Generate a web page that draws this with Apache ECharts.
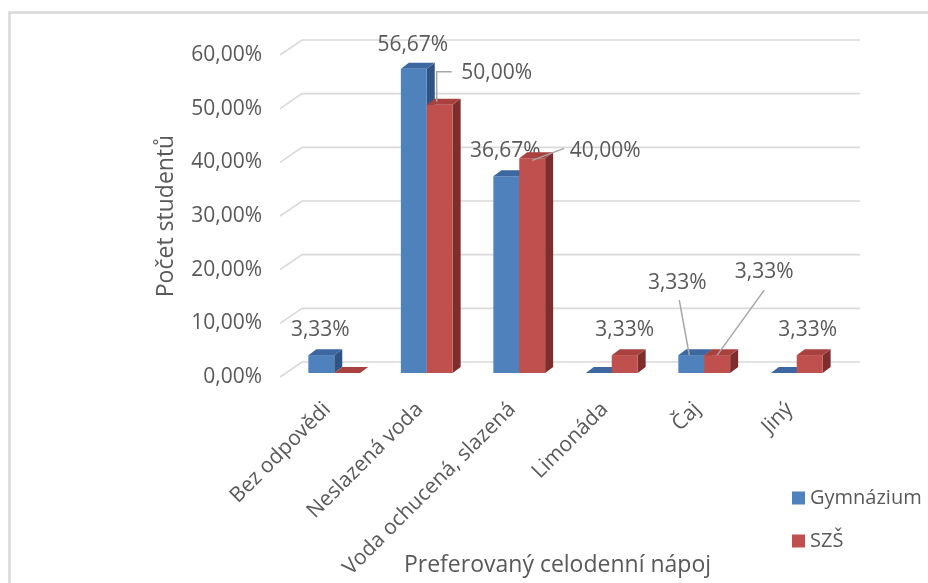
<!DOCTYPE html>
<html>
<head>
<meta charset="utf-8">
<style>
  html, body { margin: 0; padding: 0; background: #fff; }
  #chart { width: 928px; height: 583px; }
</style>
<script src="https://cdn.jsdelivr.net/npm/echarts@6/dist/echarts.min.js"></script>
</head>
<body>
<div id="chart"></div>
<script>
// Preferred all-day drink, share of students by school type
const categories = ['Bez odpovědi', 'Neslazená voda', 'Voda ochucená, slazená', 'Limonáda', 'Čaj', 'Jiný'];
const gymnazium = [3.33, 56.67, 36.67, 0, 3.33, 0];
const szs = [0, 50.00, 40.00, 3.33, 3.33, 3.33];
const yTicks = [0, 10, 20, 30, 40, 50, 60];
const seriesNames = ['Gymnázium', 'SZŠ'];

// Label placement relative to the top-front centre of each bar (px):
// [dx, dy, leaderType, leader end at label (x, y), leader end at bar (x, y)]
const gymLabelPos = [
  [-1, -25, 0], [-1, -24, 0], [-1, -25, 0], null,
  [-14, -72, 1, 2, 17, -2, 0], null
];
const szsLabelPos = [
  null, [57, -32, 2, -45, -1, -3, -3], [73, -7, 1, -41, -3, 0, 2],
  [0, -25, 0], [47, -83, 1, 0, 18, 0, 0], [-2, -25, 0]
];

const FONT = '"Open Sans", Lato, sans-serif';
const TEXT = '#595959';
const GRID = '#d9d9d9';
const FS = 21;

// 3D look: bar depth faces, bar plane inset from the floor front, back wall offset
const BAR_DX = 8, BAR_DY = -6;
const BAR_PLANE_DY = -4;
const WALL_DX = 22, WALL_DY = -15;

const palette = [
  { front: '#4f81bd', top: '#3c67a1', side: '#2f5483' },
  { front: '#c0504d', top: '#a9423f', side: '#7d2e2c' }
];

function fmt(v) { return v.toFixed(2).replace('.', ',') + '%'; }

function barRenderer(seriesIdx, labelPos) {
  return function (params, api) {
    const i = api.value(0), v = api.value(1);
    const base = api.coord([i, 0]);
    const top = api.coord([i, v]);
    const band = api.size([1, 0])[0];
    const w = band * 0.28;
    const x0 = seriesIdx === 0 ? base[0] - w : base[0];
    const y0 = base[1] + BAR_PLANE_DY, y1 = top[1] + BAR_PLANE_DY;
    const c = palette[seriesIdx];
    const children = [];
    if (y0 - y1 > 0.5) {
      children.push({
        type: 'polygon',
        shape: { points: [[x0 + w, y1], [x0 + w + BAR_DX, y1 + BAR_DY], [x0 + w + BAR_DX, y0 + BAR_DY], [x0 + w, y0]] },
        style: { fill: c.side }
      });
      children.push({
        type: 'rect',
        shape: { x: x0, y: y1, width: w, height: y0 - y1 },
        style: { fill: c.front }
      });
    }
    children.push({
      type: 'polygon',
      shape: { points: [[x0, y1], [x0 + BAR_DX, y1 + BAR_DY], [x0 + w + BAR_DX, y1 + BAR_DY], [x0 + w, y1]] },
      style: { fill: c.top }
    });
    const lp = labelPos[i];
    if (lp && v > 0) {
      const cx = x0 + w / 2, cy = y1;
      const lx = cx + lp[0], ly = cy + lp[1];
      if (lp[2] === 1) {
        children.push({
          type: 'line',
          shape: { x1: lx + lp[3], y1: ly + lp[4], x2: cx + lp[5], y2: cy + lp[6] },
          style: { stroke: '#a6a6a6', lineWidth: 1.5 }
        });
      } else if (lp[2] === 2) {
        children.push({
          type: 'polyline',
          shape: { points: [[cx + lp[5], cy + lp[6]], [cx + lp[5], ly + lp[4]], [lx + lp[3], ly + lp[4]]] },
          style: { stroke: '#a6a6a6', lineWidth: 1.5, fill: null }
        });
      }
      children.push({
        type: 'text',
        style: {
          x: lx, y: ly, text: fmt(v), fill: TEXT,
          font: FS + 'px ' + FONT, align: 'center', verticalAlign: 'middle'
        }
      });
    }
    return { type: 'group', children: children };
  };
}

const chart = echarts.init(document.getElementById('chart'), null, { renderer: 'canvas' });

chart.setOption({
  backgroundColor: '#fff',
  animation: false,
  textStyle: { fontFamily: FONT },
  graphic: [{
    type: 'rect',
    shape: { x: 9.5, y: 12.5, width: 1000, height: 1000 },
    style: { fill: null, stroke: GRID, lineWidth: 2.5 },
    silent: true, z: -10
  }],
  legend: {
    orient: 'vertical',
    left: 787, top: 483,
    itemWidth: 13, itemHeight: 13, itemGap: 23,
    icon: 'rect',
    data: seriesNames,
    textStyle: { color: TEXT, fontSize: 20, fontFamily: FONT }
  },
  grid: { left: 288, right: 85, top: 55, bottom: 206, outerBoundsMode: 'none' },
  xAxis: {
    type: 'category',
    data: categories,
    axisLine: { show: false },
    axisTick: { show: false },
    axisLabel: {
      rotate: 45, margin: 22, color: TEXT, fontSize: FS, fontFamily: FONT, interval: 0,
      padding: [0, 10, 0, 0]
    },
    name: 'Preferovaný celodenní nápoj',
    nameLocation: 'middle',
    nameGap: 177,
    nameMoveOverlap: false,
    nameTextStyle: { color: TEXT, fontSize: 23, fontFamily: FONT, padding: [0, 16, 0, 0] }
  },
  yAxis: {
    type: 'value',
    min: 0, max: 60, interval: 10,
    axisLine: { show: false },
    axisTick: { show: false },
    splitLine: { show: false },
    axisLabel: {
      margin: 26, color: TEXT, fontSize: FS, fontFamily: FONT,
      formatter: function (v) { return fmt(v); }
    },
    name: 'Počet studentů',
    nameLocation: 'middle',
    nameRotate: 90,
    nameGap: 110,
    nameMoveOverlap: false,
    nameTextStyle: { color: TEXT, fontSize: 23, fontFamily: FONT }
  },
  series: [
    {
      // back wall gridlines with slanted floor edge
      type: 'custom',
      silent: true,
      z: 1,
      data: yTicks.map(function (t) { return [0, t]; }),
      renderItem: function (params, api) {
        const v = api.value(1);
        const y = api.coord([0, v])[1];
        const cs = params.coordSys;
        const xl = cs.x - 8;
        const xr = cs.x + cs.width + 17;
        return {
          type: 'polyline',
          shape: { points: [[xl, y], [xl + WALL_DX, y + WALL_DY], [xr, y + WALL_DY]] },
          style: { stroke: GRID, lineWidth: 1.6, fill: null }
        };
      }
    },
    {
      name: seriesNames[0],
      type: 'custom',
      z: 3,
      itemStyle: { color: palette[0].front },
      data: gymnazium.map(function (v, i) { return [i, v]; }),
      renderItem: barRenderer(0, gymLabelPos)
    },
    {
      name: seriesNames[1],
      type: 'custom',
      z: 4,
      itemStyle: { color: palette[1].front },
      data: szs.map(function (v, i) { return [i, v]; }),
      renderItem: barRenderer(1, szsLabelPos)
    }
  ]
});
</script>
</body>
</html>
